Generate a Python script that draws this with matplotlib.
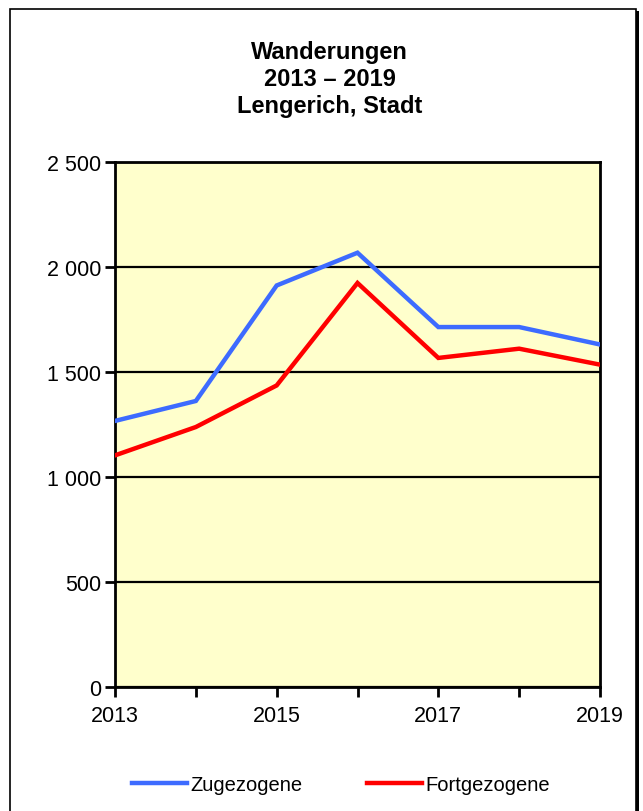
import matplotlib
matplotlib.use('Agg')
from matplotlib import pyplot as plt
from matplotlib.patches import Rectangle
from matplotlib.ticker import FuncFormatter, MultipleLocator

plt.rcParams['font.family'] = ['Liberation Sans', 'DejaVu Sans']

years = [2013, 2014, 2015, 2016, 2017, 2018, 2019]
zugezogene = [1267, 1362, 1912, 2068, 1714, 1714, 1631]
fortgezogene = [1103, 1238, 1436, 1924, 1567, 1611, 1535]

fig = plt.figure(figsize=(6.43, 8.12), dpi=100)

# outer frame with shadow
fig.patches.append(Rectangle((12 / 643, -0.01), 627 / 643, 1 - 12 / 812 + 0.01,
                             transform=fig.transFigure, facecolor='black',
                             edgecolor='none', zorder=-2))
fig.patches.append(Rectangle((10 / 643, -0.01), 626 / 643, 1 - 10 / 812 + 0.01,
                             transform=fig.transFigure, facecolor='white',
                             edgecolor='black', linewidth=1.2, zorder=-1))

ax = fig.add_axes([115 / 643, 1 - 688 / 812, 485 / 643, 525 / 812])
ax.set_facecolor('#ffffcc')

ax.plot(years, zugezogene, color='#3d6bff', linewidth=3.2, label='Zugezogene',
        solid_joinstyle='miter', zorder=3)
ax.plot(years, fortgezogene, color='#ff0000', linewidth=3.2, label='Fortgezogene',
        solid_joinstyle='miter', zorder=3)

ax.set_xlim(2013, 2019)
ax.set_ylim(0, 2500)
ax.yaxis.set_major_locator(MultipleLocator(500))
ax.yaxis.set_major_formatter(FuncFormatter(lambda v, p: f'{int(v):,}'.replace(',', ' ')))
ax.set_xticks([2013, 2015, 2017, 2019])
ax.set_xticks(years, minor=True)
ax.grid(axis='y', color='black', linewidth=1.6, zorder=1)
for s in ax.spines.values():
    s.set_linewidth(2)
ax.tick_params(axis='both', which='both', direction='out', width=2, labelsize=15.5)
ax.tick_params(axis='x', which='major', length=7, pad=6)
ax.tick_params(axis='x', which='minor', length=7)
ax.tick_params(axis='y', length=7, pad=3)

for txt, yp in [('Wanderungen', 52), ('2013 – 2019', 79), ('Lengerich, Stadt', 106)]:
    fig.text(0.513, 1 - yp / 812, txt, ha='center', va='center',
             fontsize=17, fontweight='bold')

fig.legend(loc='center', bbox_to_anchor=(0.531, 1 - 786 / 812), ncol=2,
           frameon=False, fontsize=14.5, handlelength=2.7, handletextpad=0.2,
           columnspacing=3.2)

plt.savefig('out.png', dpi=100)
